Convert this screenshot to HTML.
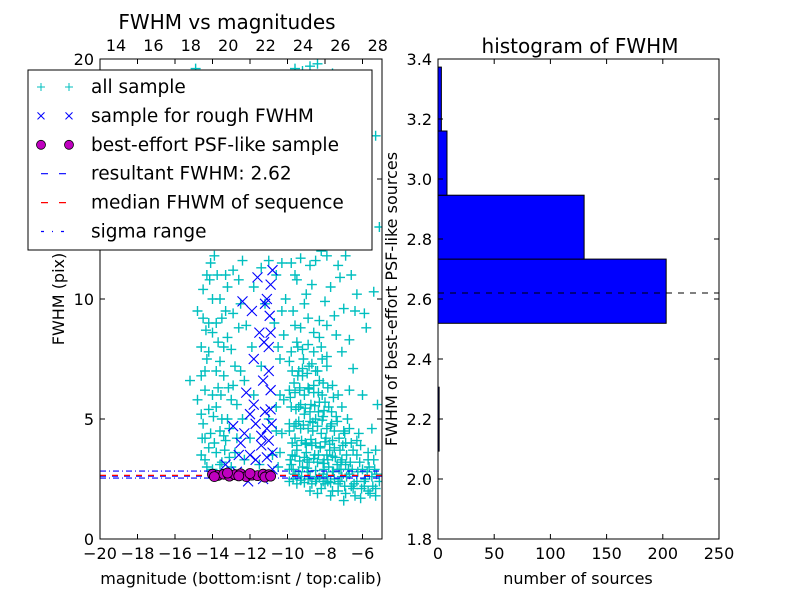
<!DOCTYPE html>
<html><head><meta charset="utf-8"><style>
body{margin:0;background:#fff}
svg{display:block;font-family:"DejaVu Sans","Liberation Sans",sans-serif}
</style></head><body>
<svg id="fig" width="800" height="600" viewBox="0 0 800 600">
<rect width="800" height="600" fill="#fff"/>
<g id="left"></g>
<g id="right"></g>
</svg>
<script>
const allSample=[[-9.8,3.1],[-9.6,4.2],[-9.4,5.5],[-9.2,6.8],[-9.0,3.6],[-8.8,4.9],[-8.6,6.1],[-8.4,3.2],[-8.2,4.4],[-8.0,5.7],[-7.8,3.0],[-7.6,4.1],[-9.9,7.4],[-9.7,2.9],[-9.5,3.7],[-9.3,4.6],[-9.1,5.2],[-8.9,2.8],[-8.7,3.9],[-8.5,5.0],[-8.3,6.6],[-8.1,2.7],[-7.9,3.5],[-7.7,4.7],[-9.85,5.9],[-9.65,6.5],[-9.45,8.0],[-9.25,2.6],[-9.05,4.0],[-8.85,7.2],[-8.65,4.5],[-8.45,2.5],[-8.25,3.8],[-8.05,3.3],[-7.85,2.4],[-7.65,5.3],[-7.45,3.4],[-7.25,2.9],[-7.05,3.9],[-6.85,2.6],[-6.65,3.2],[-6.45,2.3],[-6.25,2.8],[-6.05,2.1],[-5.85,2.5],[-5.65,3.0],[-5.45,2.2],[-5.25,2.7],[-7.5,4.5],[-7.2,3.7],[-6.9,3.1],[-6.6,4.0],[-6.3,3.5],[-6.0,2.9],[-5.7,3.6],[-5.4,3.3],[-9.7,9.5],[-9.3,8.8],[-8.9,9.2],[-8.3,8.4],[-7.9,7.6],[-7.3,6.0],[-6.8,5.0],[-6.2,4.4],[-5.5,4.6],[-5.2,5.6],[-8.6,7.8],[-9.0,10.2],[-9.5,10.8],[-8.0,9.9],[-7.4,8.5],[-6.5,7.1],[-6.0,6.0],[-5.8,8.8],[-7.0,9.6],[-7.7,10.5],[-7.0,1.6],[-8.4,1.9],[-7.6,2.0],[-6.4,1.8],[-5.6,1.9],
[-9.75,3.5],[-9.55,4.8],[-9.35,6.2],[-9.15,7.5],[-8.95,3.3],[-8.75,5.6],[-8.55,3.5],[-8.35,5.3],[-8.15,6.0],[-7.95,4.2],[-7.75,3.7],[-7.55,2.8],[-7.35,4.9],[-7.15,3.2],[-6.95,4.4],[-6.75,2.9],[-9.6,2.7],[-9.2,3.0],[-8.8,2.6],[-8.0,2.3],[-7.2,2.4],[-6.6,2.2],[-5.9,2.4],[-5.3,2.1],[-9.9,4.5],[-9.4,7.0],[-8.9,6.3],[-8.5,7.0],[-8.1,5.1],[-7.6,6.4],[-7.1,5.5],[-6.7,6.2],
[-9.8,11.5],[-9.4,12.4],[-9.0,13.6],[-8.6,14.8],[-8.2,12.0],[-7.8,16.0],[-7.4,13.0],[-7.0,18.5],[-9.6,19.6],[-9.2,19.5],[-8.4,19.8],[-7.6,19.4],[-8.8,16.5],[-6.6,11.0],[-6.2,12.5],[-5.3,16.8],[-5.1,13.0],[-9.6,11.0],[-8.8,11.4],[-7.9,11.8],[-7.2,10.9],[-6.4,9.5],[-5.4,10.3],[-8.8,19.7],[-14.9,19.6],
[-14.6,3.5],[-14.5,4.8],[-14.4,6.2],[-14.3,7.5],[-14.2,9.0],[-14.5,10.4],[-14.1,11.5],[-13.9,4.0],[-13.8,5.5],[-13.7,8.2],[-13.6,10.0],[-13.5,3.2],[-13.4,6.8],[-13.3,11.0],[-13.1,4.6],[-13.0,7.9],[-12.9,9.4],[-12.8,3.6],[-12.7,5.6],[-12.6,10.8],[-14.0,8.6],[-13.2,5.0],[-12.5,7.0],[-14.3,3.0],[-14.0,2.9],[-13.6,3.1],[-13.0,3.0],[-12.3,3.3],[-12.0,4.2],[-11.8,6.0],[-11.5,3.1],[-11.2,9.8],[-11.0,5.0],[-10.8,3.5],[-10.6,11.0],[-10.4,7.5],[-10.3,4.4],[-15.2,6.6],[-14.8,5.8],[-14.8,9.5],[-12.4,11.6],[-11.9,8.0],[-11.4,11.3],[-10.7,9.0],[-10.2,5.8],[-10.5,3.0],[-14.4,4.2],[-14.2,5.4],[-13.8,7.0],[-13.5,9.2],[-14.6,8.0],[-13.3,4.1],[-12.9,6.4],[-10.4,6.0],[-10.2,8.5],[-10.1,10.0],
[-9.9,2.4],[-9.7,2.5],[-9.5,2.3],[-9.3,2.45],[-9.1,2.35],[-8.9,2.5],[-8.7,2.3],[-8.5,2.4],[-8.3,2.55],[-8.1,2.4],[-7.9,2.6],[-7.7,2.35],[-7.5,2.5],[-7.3,2.3],[-7.1,2.6],
[-9.85,3.3],[-9.6,3.45],[-9.35,3.25],[-9.1,3.4],[-8.85,3.2],[-8.6,3.35],[-8.35,3.5],[-8.1,3.15],[-7.85,3.3],[-7.6,3.45],[-7.35,3.1],[-7.1,3.3],[-6.85,3.5],
[-9.75,4.0],[-9.5,3.9],[-9.25,4.1],[-9.0,3.95],[-8.75,4.15],[-8.5,4.0],[-8.25,3.85],[-8.0,4.05],[-7.75,3.95],[-7.5,3.8],[-7.25,4.2],[-7.0,4.5],
[-9.9,4.8],[-9.65,4.7],[-9.4,4.9],[-9.15,4.75],[-8.9,4.6],[-8.65,4.85],[-8.4,4.7],[-8.15,4.95],[-7.9,4.6],[-7.65,4.8],[-7.4,5.1],
[-9.8,5.5],[-9.55,5.4],[-9.3,5.6],[-9.05,5.45],[-8.8,5.3],[-8.55,5.55],[-8.3,5.7],[-8.05,5.35],[-7.8,5.5],[-7.55,5.9],
[-9.9,6.2],[-9.6,6.1],[-9.35,6.3],[-9.1,6.0],[-8.85,6.25],[-8.6,6.4],[-8.35,6.1],[-8.1,6.5],[-7.85,6.3],
[-9.75,7.0],[-9.45,6.8],[-9.2,7.1],[-8.95,6.9],[-8.7,7.3],[-8.4,7.0],[-8.15,7.5],[-7.9,7.2],
[-9.8,7.8],[-9.5,8.2],[-9.2,7.9],[-8.9,8.1],[-8.6,8.6],[-8.2,8.0],
[-9.9,2.9],[-9.4,2.8],[-8.95,2.95],[-8.5,2.85],[-8.05,2.9],[-7.6,2.8],[-7.15,2.9],[-6.7,2.7],[-6.3,2.4],[-5.9,2.2],[-5.5,2.6],[-5.1,2.4],
[-6.95,2.2],[-6.55,2.9],[-6.15,3.2],[-5.75,2.8],[-5.35,2.9],[-6.9,4.0],[-6.5,3.7],[-6.1,3.9],[-5.7,3.3],[-5.3,3.7],[-6.7,4.6],[-6.3,4.1],
[-7.3,2.0],[-6.9,1.9],[-6.5,2.1],[-6.1,1.7],[-5.7,2.0],[-5.3,1.8],[-7.7,1.8],[-8.2,2.1],[-8.8,2.0],
[-14.6,5.2],[-14.4,7.0],[-14.2,3.8],[-14.0,6.0],[-13.8,9.0],[-13.6,4.5],[-13.4,8.0],[-13.2,10.5],[-13.0,5.8],[-12.8,7.2],[-12.6,8.8],[-12.4,5.0],[-14.5,9.2],[-14.3,11.0],[-14.1,4.4],[-13.9,11.8],[-13.7,6.3],[-13.5,5.0],[-13.3,9.5],[-13.1,3.4],[-12.9,11.2],[-12.7,4.2],[-12.5,9.8],[-12.3,6.6],[-14.6,6.8],[-14.4,3.3],[-14.2,7.8],[-14.0,10.0],[-13.8,3.6],[-13.6,7.4],[-13.4,4.3],[-13.2,8.4],[-14.55,4.2],[-14.35,8.7],[-14.15,10.8],[-13.95,5.1],[-13.75,11.0],[-13.55,6.0],[-13.35,3.7],[-13.15,6.3],
[-12.2,8.9],[-11.8,10.5],[-11.4,7.2],[-11.0,11.6],[-10.6,5.5],[-10.3,9.5],[-10.4,3.6],[-10.6,4.5],[-10.5,8.0],[-10.3,11.5],
[-9.6,8.9],[-9.1,9.8],[-8.7,10.6],[-8.3,9.1],[-7.9,8.9],[-7.5,9.3],[-7.1,7.8],[-6.7,8.3],[-6.3,10.2],[-5.9,9.4],[-8.5,11.6],[-7.3,11.4],[-6.9,11.8],[-9.3,11.7]];
const roughSample=[[-12.6,3.5],[-12.3,4.4],[-12.0,5.2],[-11.7,4.8],[-11.4,3.9],[-11.1,4.6],[-10.9,5.4],[-10.8,3.6],[-12.2,6.1],[-11.8,7.5],[-11.5,8.6],[-11.2,9.8],[-10.9,10.6],[-11.0,8.0],[-11.3,6.6],[-11.9,9.5],[-12.4,9.9],[-11.6,10.9],[-10.8,11.2],[-11.0,7.0],[-12.7,2.8],[-12.1,2.4],[-11.3,2.5],[-10.8,2.9],[-13.3,3.1],[-12.9,4.7],[-11.7,3.3],[-11.0,4.1],[-10.9,6.2],[-12.5,4.0],[-11.2,5.3],[-10.9,8.6],[-11.1,10.0],[-12.0,3.5],[-11.4,4.3],[-10.85,4.8],[-11.8,5.6],[-11.1,3.4],[-10.95,9.3],[-11.25,8.2]];
const psfSample=[[-14.0,2.7],[-13.7,2.65],[-13.4,2.7],[-13.1,2.62],[-12.8,2.68],[-12.5,2.72],[-12.2,2.6],[-11.9,2.66],[-11.6,2.64],[-11.3,2.7],[-11.0,2.68],[-13.9,2.6],[-13.2,2.75],[-12.0,2.73],[-11.2,2.58],[-12.6,2.63],[-10.9,2.62]];
const resultantFWHM=2.62, medianFWHM=2.65, sigmaLow=2.54, sigmaHigh=2.83;
const histEdges=[2.093,2.306,2.519,2.733,2.946,3.160,3.373];
const histCounts=[1,0,203,130,8,3];
const xTicksBottom=[-20,-18,-16,-14,-12,-10,-8,-6];
const xTicksTop=[14,16,18,20,22,24,26,28];
const yTicksLeft=[0,5,10,20];
const yTicksRight=[1.8,2.0,2.2,2.4,2.6,2.8,3.0,3.2,3.4];
const xTicksRight=[0,50,100,150,200,250];

const NS='http://www.w3.org/2000/svg';
function mk(p,tag,attrs,txt){const e=document.createElementNS(NS,tag);for(const k in attrs)e.setAttribute(k,attrs[k]);if(txt!==undefined)e.textContent=txt;p.appendChild(e);return e;}
const L=document.getElementById('left'), R=document.getElementById('right');
const lx0=100,lx1=382,ly0=59,ly1=539;
const X=m=>lx0+(m+20)*18.75, Y=f=>ly1-f*24, XT=c=>116+(c-14)*18.7;
const clip=mk(L,'clipPath',{id:'lc'});mk(clip,'rect',{x:lx0,y:ly0,width:lx1-lx0,height:ly1-ly0});
const pts=mk(L,'g',{'clip-path':'url(#lc)'});


allSample.forEach(([m,f])=>{const x=X(m),y=Y(f);const g=mk(pts,'path',{d:`M${x-5} ${y}H${x+5}M${x} ${y-5}V${y+5}`,stroke:'#00bfbf','stroke-width':1.4,fill:'none'});

});
roughSample.forEach(([m,f])=>{const x=X(m),y=Y(f);const g=mk(pts,'path',{d:`M${x-5} ${y-5}L${x+5} ${y+5}M${x-5} ${y+5}L${x+5} ${y-5}`,stroke:'#0000ff','stroke-width':1.1,fill:'none'});

});
const hl=(v,c,da,nm)=>{const l=mk(pts,'line',{x1:lx0,x2:lx1,y1:Y(v),y2:Y(v),stroke:c,'stroke-width':1.2,'stroke-dasharray':da});

};
hl(sigmaLow,'#0000ff','6 3 1 3','sigma-low-line');hl(sigmaHigh,'#0000ff','6 3 1 3','sigma-high-line');
hl(resultantFWHM,'#0000ff','6 6','resultant-fwhm-line');hl(medianFWHM,'#ff0000','6 6','median-fwhm-line');
psfSample.forEach(([m,f])=>{const c=mk(pts,'circle',{cx:X(m),cy:Y(f),r:5,fill:'#bf00bf',stroke:'#000','stroke-width':0.8});

});
mk(L,'rect',{x:lx0,y:ly0,width:lx1-lx0,height:ly1-ly0,fill:'none',stroke:'#000','stroke-width':1});
const tl={'font-size':16,fill:'#000'};
xTicksBottom.forEach(v=>{const x=X(v);mk(L,'path',{d:`M${x} ${ly1}v-5M${x} ${ly0}v5`,stroke:'#000'});const t=mk(L,'text',{x:x,y:559,'text-anchor':'middle',...tl},'\u2212'+Math.abs(v));

});
xTicksTop.forEach(v=>{const x=XT(v);const t=mk(L,'text',{x:x,y:51,'text-anchor':'middle',...tl},v);

});
yTicksLeft.forEach(v=>{const y=Y(v);mk(L,'path',{d:`M${lx0} ${y}h5M${lx1} ${y}h-5`,stroke:'#000'});const t=mk(L,'text',{x:94,y:y+6,'text-anchor':'end',...tl},v);

});
[15].forEach(v=>{const y=Y(v);mk(L,'path',{d:`M${lx0} ${y}h5M${lx1} ${y}h-5`,stroke:'#000'});});
let t=mk(L,'text',{x:227,y:29,'text-anchor':'middle','font-size':20},'FWHM vs magnitudes');

t=mk(L,'text',{x:241,y:584,'text-anchor':'middle','font-size':16},'magnitude (bottom:isnt / top:calib)');

t=mk(L,'text',{x:64,y:299,'text-anchor':'middle','font-size':16,transform:'rotate(-90 64 299)'},'FWHM (pix)');

const lg=mk(L,'g',{});


mk(lg,'rect',{x:28,y:70,width:344,height:180,fill:'#fff',stroke:'#000','stroke-width':1});
const labels=['all sample','sample for rough FWHM','best-effort PSF-like sample','resultant FWHM: 2.62','median FHWM of sequence','sigma range'];
labels.forEach((lab,i)=>{const y=87+i*28.9;
[41,69].forEach(x=>{
 if(i==0)mk(lg,'path',{d:`M${x-4} ${y}H${x+4}M${x} ${y-4}V${y+4}`,stroke:'#00bfbf'});
 if(i==1)mk(lg,'path',{d:`M${x-3.5} ${y-3.5}L${x+3.5} ${y+3.5}M${x-3.5} ${y+3.5}L${x+3.5} ${y-3.5}`,stroke:'#0000ff'});
 if(i==2)mk(lg,'circle',{cx:x,cy:y,r:4.5,fill:'#bf00bf',stroke:'#000','stroke-width':0.8});
});
 if(i==3)mk(lg,'path',{d:`M41 ${y}h25`,stroke:'#0000ff','stroke-dasharray':'7 11','stroke-width':1.2});
 if(i==4)mk(lg,'path',{d:`M41 ${y}h25`,stroke:'#ff0000','stroke-dasharray':'7 11','stroke-width':1.2});
 if(i==5)mk(lg,'path',{d:`M41 ${y}h25`,stroke:'#0000ff','stroke-dasharray':'3 8 1 8','stroke-width':1.2});
 const tt=mk(lg,'text',{x:91,y:y+6,'font-size':18.5},lab);
 
 
});
const rx0=438,rx1=719,ry0=59,ry1=539;
const HX=c=>rx0+c*(rx1-rx0)/250, HY=v=>ry1-(v-1.8)*300;
histCounts.forEach((c,i)=>{const y0=HY(histEdges[i+1]),y1=HY(histEdges[i]);
 const r=mk(R,'rect',{x:rx0,y:y0,width:HX(c)-rx0,height:y1-y0,fill:'#0000ff',stroke:'#000','stroke-width':1});
 
 });
let dl=mk(R,'line',{x1:rx0,x2:rx1,y1:HY(resultantFWHM),y2:HY(resultantFWHM),stroke:'#000','stroke-dasharray':'6 6','stroke-width':1});

mk(R,'rect',{x:rx0,y:ry0,width:rx1-rx0,height:ry1-ry0,fill:'none',stroke:'#000'});
xTicksRight.forEach(v=>{const x=HX(v);mk(R,'path',{d:`M${x} ${ry1}v-5M${x} ${ry0}v5`,stroke:'#000'});const t=mk(R,'text',{x:x,y:559,'text-anchor':'middle',...tl},v);

});
yTicksRight.forEach(v=>{const y=HY(v);mk(R,'path',{d:`M${rx0} ${y}h5M${rx1} ${y}h-5`,stroke:'#000'});const t=mk(R,'text',{x:432,y:y+6,'text-anchor':'end',...tl},v.toFixed(1));

});
t=mk(R,'text',{x:580,y:53,'text-anchor':'middle','font-size':20},'histogram of FWHM');

t=mk(R,'text',{x:578,y:584,'text-anchor':'middle','font-size':16},'number of sources');

t=mk(R,'text',{x:397,y:299,'text-anchor':'middle','font-size':16,transform:'rotate(-90 397 299)'},'FWHM of best-effort PSF-like sources');

</script>
</body></html>
